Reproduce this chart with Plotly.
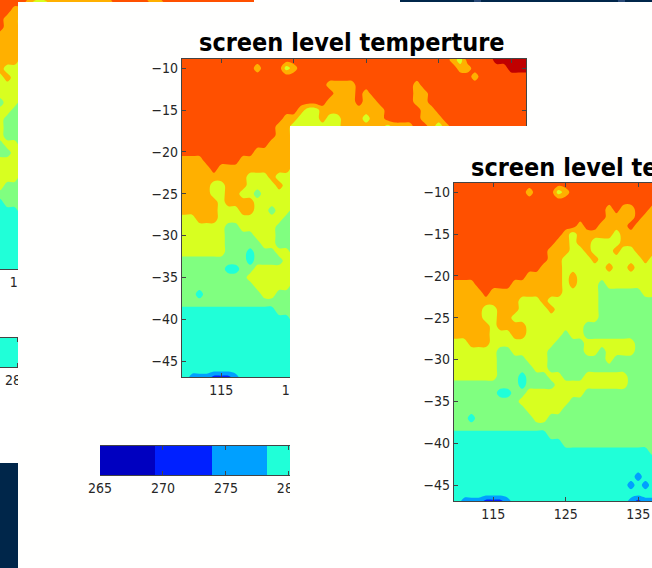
import plotly.graph_objects as go

W, H = 652, 568

# temperature classes, coldest to hottest
class_colors = ["#0000c0", "#0020ff", "#00a0ff", "#20ffd8", "#80ff80",
                "#d8ff20", "#ffb000", "#ff5000", "#c00000"]
class_step = 4.5
temp_min = 265.0
temp_max = 305.5
cbar_edges = [265, 269.4, 273.9, 278.3, 282.8, 287.3, 291.8, 296.3, 300.8, 305.3]
cbar_ticks = [265, 270, 275, 280, 285, 290, 295, 300, 305]
lat_ticks = [-10, -15, -20, -25, -30, -35, -40, -45]
lon_ticks = [115, 125, 135, 145, 155]
# labels of ticks whose text is hidden behind a later picture stay empty
left_lon_labels = ["", "125", "", "", ""]
mid_lon_labels = ["115", "125", "", "", ""]
front_lon_labels = ["115", "125", "135", "", ""]
left_cbar_labels = ["", "", "", "280", "", "", "", "", ""]
mid_cbar_labels = ["265", "270", "275", "280", "", "", "", "", ""]
title_text = "screen level temperture"

# Front panel: lat -8 .. -47 (rows), lon 109 .. 137 (columns)
front_lons = list(range(109, 138))
front_lats = list(range(-8, -48, -1))
front_rows = [
    "77777777777777777777777777777",
    "77777777777777777777777777777",
    "77777777777677756777777777777",
    "77777777777777777777777777777",
    "77777777777777777777776766776",
    "77777777777777777777776666766",
    "77777777777777777767766667666",
    "77777777777777776566666566666",
    "77777777777777766566555566666",
    "77777777777777666556555655666",
    "77777777777777665555655555565",
    "77777777777776665555556556555",
    "77777777777666665655555555555",
    "66667777766666665655545555555",
    "66666766666666665555544444455",
    "66666666665556555555544444444",
    "66666556665555655555544444444",
    "66666556655555555555544444444",
    "66666656666555555554444444444",
    "66666655566555554554444444444",
    "55566655555555544445555555444",
    "55555554455555444445545555444",
    "55555554444555444444445444444",
    "55555554444455444444444444444",
    "55555554443444554445555554444",
    "44444444443444455555555554444",
    "44444443344555555554444444444",
    "44444444445555555444444444444",
    "44444444444555554444444444444",
    "44434444444455444444444444444",
    "44444444444444444444444444444",
    "33333333333333444444444444444",
    "33333333333333334444444444444",
    "33333333333333333333333333334",
    "33333333333333333333333333333",
    "33333333333333333333333333333",
    "33333333333333333333333333233",
    "33333333333333333333333332323",
    "33333333333333333333333333333",
    "33222111233333333333333332122",
]

# Middle (and far-left) panel: lat -8 .. -47, lon 109 .. 158.
# Only the part the front sheet does not hide can be read; "-" means unseen.
mid_lons = list(range(109, 159))
mid_lats = list(range(-8, -48, -1))
mid_north_rows = [
    "7" * 44 + "8" * 6,
    "7" * 38 + "65" + "7" * 4 + "8" * 6,
    "7" * 11 + "6" + "777" + "56" + "7" * 22 + "66" + "7" * 5 + "8" * 4,
    "7" * 41 + "6" + "7" * 8,
    "7" * 21 + "6666" + "7" * 8 + "6" + "7" * 16,
    "7" * 22 + "666" + "7" + "6" + "7" * 6 + "66" + "7" * 15,
    "7" * 21 + "6666" + "7" + "66" + "7" * 5 + "66" + "7" * 15,
    "7" * 17 + "6" + "55" + "6" * 9 + "7" * 5 + "66" + "7" * 14,
    "7" * 15 + "66" + "555" + "6" + "55" + "666" + "5" + "66" + "7" * 5 + "666" + "7" * 13,
    "7" * 14 + "66" + "5" * 7 + "6" * 6 + "5" + "666" + "77" + "6" + "5" + "6" + "7" * 12,
    "7" * 14 + "66" + "5" * 9 + "6666" + "5555" + "77" + "666" + "7" * 12,
]
mid_west_rows = [
    "77777777777776665",
    "77777777777666665",
    "66667777766666665",
    "66666766666666665",
    "66666666665556555",
    "66666556665555655",
    "66666556655455555",
    "66666656666555555",
    "66666655566554554",
    "55566655555555544",
    "55555554455555444",
    "55555554444555444",
    "55555554444455444",
    "55555554443444554",
    "44444444443444455",
    "44444443344555555",
    "44444444445555555",
    "44444444444555554",
    "44434444444455444",
    "44444444444444444",
    "33333333333333444",
    "33333333333333334",
    "33333333333333333",
    "33333333333333333",
    "33333333333333333",
    "33333333333333333",
    "33333333333333333",
    "33333333333333333",
    "33222111233333333",
]
mid_rows = mid_north_rows + [r.ljust(len(mid_lons), "-") for r in mid_west_rows]


def temps(rows):
    return [[None if c == "-" else temp_min + class_step * (int(c) + 0.5) for c in row] for row in rows]


colorscale = []
n = len(class_colors)
for k, col in enumerate(class_colors):
    colorscale += [[k / n, col], [(k + 1) / n, col]]

FONT = "DejaVu Sans Condensed, DejaVu Sans"
INK = "#262626"
LINE = "#444444"
tickfont = dict(family=FONT, size=14, color=INK)


def dx(a, b):
    return [a / W, b / W]


def dy(top, bottom):
    return [1 - bottom / H, 1 - top / H]


def field(x, y, rows, n_ax):
    s = "" if n_ax == 1 else str(n_ax)
    return go.Contour(
        x=x, y=y, z=temps(rows), xaxis="x" + s, yaxis="y" + s,
        zmin=temp_min, zmax=temp_max, colorscale=colorscale, showscale=False,
        autocontour=False,
        contours=dict(start=temp_min, end=temp_max, size=class_step, coloring="fill", showlines=False),
        line=dict(width=0), hoverinfo="skip",
    )


def cbar(n_ax):
    s = "" if n_ax == 1 else str(n_ax)
    mids = [temp_min + class_step * (k + 0.5) for k in range(n)]
    return go.Heatmap(
        x=cbar_edges, y=[0, 1], z=[mids], xaxis="x" + s, yaxis="y" + s,
        zmin=temp_min, zmax=temp_max, colorscale=colorscale, showscale=False, hoverinfo="skip",
    )


def sheet(n_ax):
    s = str(n_ax)
    return go.Scatter(x=[], y=[], xaxis="x" + s, yaxis="y" + s, showlegend=False)


traces = [
    field(mid_lons, mid_lats, mid_rows, 1),
    cbar(2),
    sheet(3),
    field(mid_lons, mid_lats, mid_rows, 4),
    cbar(5),
    sheet(6),
    field(front_lons, front_lats, front_rows, 7),
]
fig = go.Figure(traces)

common = dict(showgrid=False, zeroline=False, ticks="inside", ticklen=4, tickwidth=1,
              tickcolor=LINE, linecolor=LINE, linewidth=1.3, showline=True, tickfont=tickfont,
              tickmode="array")

layout = dict(
    width=W, height=H, margin=dict(l=0, r=0, t=0, b=0, autoexpand=False), autosize=False,
    paper_bgcolor="#ffffff", plot_bgcolor="#fffffe", showlegend=False,
    # far-left panel
    xaxis=dict(domain=dx(0, 254), range=[122.0, 157.0], tickvals=lon_ticks, ticktext=left_lon_labels,
               anchor="y", **common),
    yaxis=dict(domain=dy(0, 269), range=[-46.9, -14.75], visible=False, anchor="x"),
    xaxis2=dict(domain=dx(0, 254), range=[278.65, 298.8], tickvals=cbar_ticks, ticktext=left_cbar_labels,
                anchor="y2", mirror="ticks", **common),
    yaxis2=dict(domain=dy(338, 367), range=[0, 1], visible=False, anchor="x2"),
    # sheet of the middle picture
    xaxis3=dict(domain=dx(18, 652), visible=False, anchor="y3", range=[0, 1]),
    yaxis3=dict(domain=dy(2, 568), visible=False, anchor="x3", range=[0, 1]),
    # middle panel
    xaxis4=dict(domain=dx(182, 526), range=[109.6, 157.05], tickvals=lon_ticks, ticktext=mid_lon_labels,
                anchor="y4", mirror="ticks", **common),
    yaxis4=dict(domain=dy(59, 377), range=[-46.9, -8.9], tickvals=lat_ticks,
                anchor="x4", mirror="ticks", **common),
    xaxis5=dict(domain=dx(100, 610), range=[265, 305.5], tickvals=cbar_ticks, ticktext=mid_cbar_labels,
                anchor="y5", mirror="ticks", **common),
    yaxis5=dict(domain=dy(446, 475), range=[0, 1], visible=False, anchor="x5"),
    # sheet of the front picture
    xaxis6=dict(domain=dx(290, 652), visible=False, anchor="y6", range=[0, 1]),
    yaxis6=dict(domain=dy(126, 568), visible=False, anchor="x6", range=[0, 1]),
    # front panel
    xaxis7=dict(domain=dx(454, 652), range=[109.6, 136.9], tickvals=lon_ticks, ticktext=front_lon_labels,
                anchor="y7", mirror="ticks", **common),
    yaxis7=dict(domain=dy(183, 501), range=[-46.9, -8.9], tickvals=lat_ticks,
                anchor="x7", **common),
    annotations=[
        dict(text="<b>" + title_text + "</b>", xref="paper", yref="paper", showarrow=False,
             x=197 / W, y=1 - 43 / H, xanchor="left", yanchor="middle",
             font=dict(family=FONT, size=25, color="#000000")),
        dict(text="<b>" + title_text + "</b>", xref="paper", yref="paper", showarrow=False,
             x=469 / W, y=1 - 167 / H, xanchor="left", yanchor="middle",
             font=dict(family=FONT, size=25, color="#000000")),
    ],
    shapes=[
        dict(type="rect", xref="paper", yref="paper", x0=0, x1=18 / W, y0=0, y1=1 - 463 / H,
             fillcolor="#00264a", line_width=0),
        dict(type="rect", xref="paper", yref="paper", x0=400 / W, x1=1, y0=1 - 2 / H, y1=1,
             fillcolor="#00264a", line_width=0),
        dict(type="rect", xref="paper", yref="paper", x0=474 / W, x1=481 / W, y0=1 - 2 / H, y1=1,
             fillcolor="#2a4a78", line_width=0),
        dict(type="rect", xref="paper", yref="paper", x0=618 / W, x1=625 / W, y0=1 - 2 / H, y1=1,
             fillcolor="#2a4a78", line_width=0),
    ],
)
fig.update_layout(**layout)
fig.write_html("out.html", config=dict(displayModeBar=False),
               post_script="document.body.style.margin='0';document.documentElement.style.overflow='hidden';")
